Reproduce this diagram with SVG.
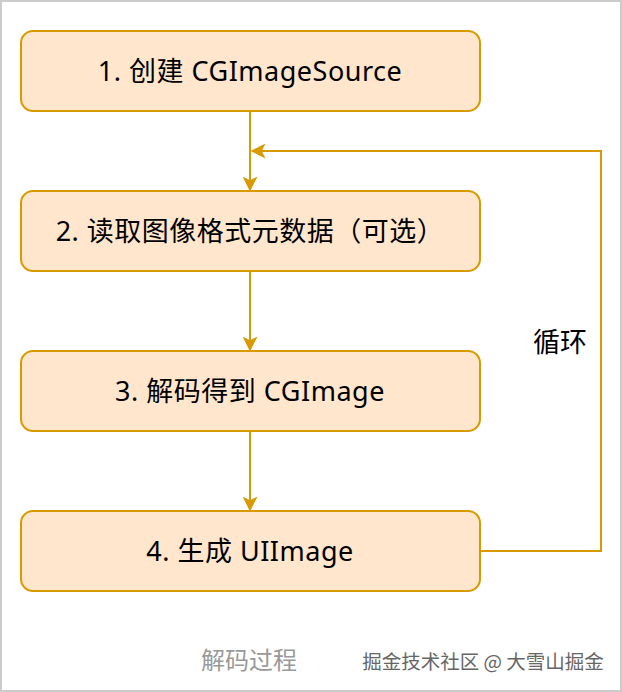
<svg xmlns="http://www.w3.org/2000/svg" width="622" height="692" viewBox="0 0 622 692">
<style>
.box{fill:#ffe6cc;stroke:#d79b00;stroke-width:2}
.lbl{font-family:"Noto Sans","Noto Sans CJK SC",sans-serif;font-size:27px;letter-spacing:0.5px;fill:#000;text-anchor:middle;dominant-baseline:central}
.edge{fill:none;stroke:#d79b00;stroke-width:2}
</style>
<defs>
<marker id="arr" viewBox="0 0 10 10" refX="9" refY="5" markerWidth="15" markerHeight="15" markerUnits="userSpaceOnUse" orient="auto">
<path d="M0,0 L10,5 L0,10 L2.5,5 Z" fill="#d79b00"/>
</marker>
</defs>
<rect x="0" y="0" width="622" height="692" fill="#fff"/>
<rect x="1" y="1" width="620" height="690" fill="none" stroke="#cccccc" stroke-width="2"/>
<g id="n1"><rect class="box" x="21" y="31" width="459" height="80" rx="12"/><text class="lbl" x="250" y="70">1. 创建 CGImageSource</text></g>
<g id="n2"><rect class="box" x="21" y="191" width="459" height="80" rx="12"/><text class="lbl" x="250" y="230">2. 读取图像格式元数据（可选）</text></g>
<g id="n3"><rect class="box" x="21" y="351" width="459" height="80" rx="12"/><text class="lbl" x="250" y="390">3. 解码得到 CGImage</text></g>
<g id="n4"><rect class="box" x="21" y="511" width="459" height="80" rx="12"/><text class="lbl" x="250" y="550">4. 生成 UIImage</text></g>
<g id="edges">
<path class="edge" d="M250,111 V190" marker-end="url(#arr)"/>
<path class="edge" d="M250,271 V350" marker-end="url(#arr)"/>
<path class="edge" d="M250,431 V510" marker-end="url(#arr)"/>
<path class="edge" d="M480,551 H601 V151 H252" marker-end="url(#arr)"/>
<text x="560" y="340" font-family="'Noto Sans CJK SC',sans-serif" font-size="27" text-anchor="middle" dominant-baseline="central">循环</text>
</g>
<text x="249" y="658" font-family="'Noto Sans CJK SC',sans-serif" font-size="24" fill="#999" text-anchor="middle" dominant-baseline="central">解码过程</text>
<text x="483" y="660" font-family="'Noto Sans CJK SC',sans-serif" font-size="19.5" fill="#666" text-anchor="middle" dominant-baseline="central">掘金技术社区 @ 大雪山掘金</text>
</svg>
